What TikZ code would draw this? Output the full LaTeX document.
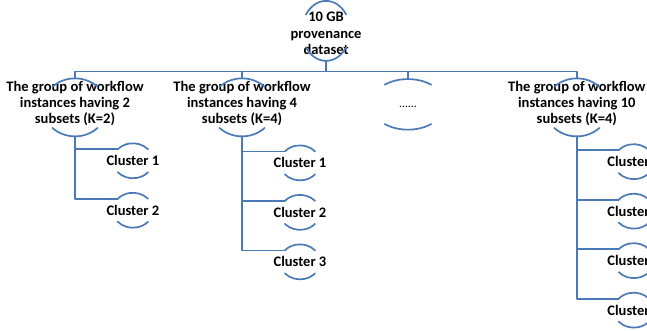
\documentclass[tikz,border=0pt]{standalone}
\usepackage{fontspec}
\setmainfont{Carlito}
\usetikzlibrary{calc}
\definecolor{treeblue}{RGB}{74,122,182}

% upper and lower arc of an ellipse round a node, plus points for the links
\newcommand{\halfarcs}[5]{%
  \coordinate (#1-c) at ($(#1)+(#2)$);
  \coordinate (#1-n) at ($(#1-c)+(0,#4)$);
  \coordinate (#1-s) at ($(#1-c)+(0,-#4)$);
  \coordinate (#1-w) at ($(#1-c)+({180-#5}:#3 and #4)$);
  \draw[link] ($(#1-c)+(#5:#3 and #4)$) arc[start angle=#5, end angle={180-#5}, x radius=#3, y radius=#4];
  \draw[link] ($(#1-c)+({180+#5}:#3 and #4)$) arc[start angle={180+#5}, end angle={360-#5}, x radius=#3, y radius=#4];
}

\begin{document}
\begin{tikzpicture}[font=\bfseries\fontsize{13.8}{15.6}\selectfont, line join=round, line cap=round,
    link/.style={draw=treeblue, line width=1.6pt},
    txt/.style={align=center, inner sep=0pt}]
  \useasboundingbox (0,0) rectangle (21.57,11.03);
  \clip (0,0) rectangle (21.57,11.03);

  % dataset
  \node[txt] (root) at (10.87,9.92) {10 GB\\provenance\\dataset};
  \halfarcs{root}{0,0.08}{0.8}{1.0}{33}
  \coordinate (bus) at (10.87,8.65);

  % groups of instances
  \node[txt] (g1) at (2.5,7.58) {The group of workflow\\instances having 2\\subsets (K=2)};
  \node[txt] (g2) at (8.07,7.58) {The group of workflow\\instances having 4\\subsets (K=4)};
  \node[txt, font=\fontsize{11}{13}\selectfont] (g3) at (13.6,7.47) {......};
  \node[txt] (g4) at (19.23,7.58) {The group of workflow\\instances having 10\\subsets (K=4)};
  \halfarcs{g1}{0,-0.13}{1.067}{0.967}{45}
  \halfarcs{g2}{0,-0.13}{1.067}{0.967}{45}
  \halfarcs{g3}{0,0.08}{1.233}{0.843}{51}
  \halfarcs{g4}{0,-0.13}{1.067}{0.967}{45}

  \draw[link] (root-s) -- (bus);
  \draw[link] (g1-n) |- (bus) -| (g4-n);
  \foreach \g in {g2,g3}
    \draw[link] (\g-n) -- (\g-n |- bus);

  % clusters
  \foreach \g/\x/\y/\n in {g1/4.43/5.67/2, g2/10.0/5.6/3, g4/21.13/5.64/4}
    \foreach \k in {1,...,\n} {
      \node[txt] (\g-\k) at (\x,{\y-1.65*(\k-1)}) {Cluster \k};
      \halfarcs{\g-\k}{0,0}{0.667}{0.583}{41}
      \draw[link] (\g-s) |- (\g-\k-w);
    }
\end{tikzpicture}
\end{document}
